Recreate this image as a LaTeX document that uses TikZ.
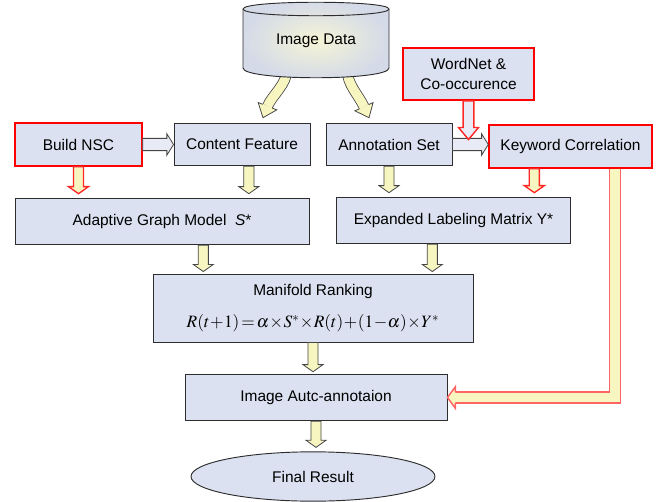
\documentclass[tikz,border=0pt]{standalone}
\usepackage{mathptmx}
\usepackage{fontspec}
\setmainfont{Liberation Sans}
\usetikzlibrary{shapes}
\usetikzlibrary{calc}
\usetikzlibrary{backgrounds}
\definecolor{boxfill}{RGB}{219,225,240}
\definecolor{boxline}{RGB}{45,45,45}
\definecolor{dbin}{RGB}{245,244,214}
\definecolor{dbout}{RGB}{212,218,232}
\definecolor{arrfill}{RGB}{247,245,192}
\definecolor{arrline}{RGB}{70,70,70}
\definecolor{redline}{RGB}{255,40,40}
\definecolor{pinkline}{RGB}{255,100,100}
\tikzset{
	box/.style = {rectangle, draw=boxline, line width=0.7pt, fill=boxfill,
		align=center, font=\fontsize{11.6}{15.5}\selectfont},
	box_r/.style = {box, draw=red, line width=1.3pt},% red framed box
	fat/.style = {draw=arrline, fill=arrfill, line width=0.6pt},% block arrow
	fat_r/.style = {fat, draw=redline, line width=1pt},
	fat_b/.style = {fat, fill=boxfill!65!white},
	fatline/.style = {draw=arrline, double=arrfill, double distance=7pt,
		line width=0.6pt},% shaft of a bent block arrow
	shaftw/.store in = \shaftw, headw/.store in = \headw,
	headl/.store in = \headl, tipgap/.store in = \tipgap,
	shaftw=3.8pt, headw=7.5pt, headl=5.3pt, tipgap=3pt
}
% straight block arrow from #2 to #3
\newcommand\fatarrow[3][]{%
	\path[#1] ($#3!\tipgap!#2$) coordinate (fa-t);
	\path[#1] ($(fa-t)!\headl!#2$) coordinate (fa-h);
	\draw[fat,#1] ($#2!\shaftw!90:(fa-t)$) -- ($(fa-h)!\shaftw!90:(fa-t)$)
		-- ($(fa-h)!\headw!90:(fa-t)$) -- (fa-t) -- ($(fa-h)!\headw!-90:(fa-t)$)
		-- ($(fa-h)!\shaftw!-90:(fa-t)$) -- ($#2!\shaftw!-90:(fa-t)$) -- cycle;}
% head only, base #2, tip #3
\newcommand\fathead[3][]{%
	\fill[fat,#1,draw=none] ($#2!\headw!90:#3$) -- #3 -- ($#2!\headw!-90:#3$) -- cycle;
	\draw[fat,#1,fill=none] ($#2!\shaftw!90:#3$) -- ($#2!\headw!90:#3$) -- #3
		-- ($#2!\headw!-90:#3$) -- ($#2!\shaftw!-90:#3$);}

\begin{document}
\begin{tikzpicture}[x=0.75pt,y=-0.75pt]
	\useasboundingbox (0,0) rectangle (663,502);
	\node[font=\fontsize{11.6}{15.5}\selectfont, minimum width=109.5pt,
		minimum height=57pt] (img) at (316,41) {Image Data};
	\node[box_r, minimum width=95pt, minimum height=32pt] (bnsc) at (78.5,144.5) {Build NSC};
	\node[box, minimum width=102pt, minimum height=32pt] (cf) at (242,144.5) {Content Feature};
	\node[box, minimum width=94.5pt, minimum height=32pt] (ann) at (389,144.5) {Annotation Set};
	\node[box_r, minimum width=98pt, minimum height=39pt] (wn) at (468.5,74) {WordNet \&\\Co-occurence};
	\node[box_r, minimum width=122pt, minimum height=32pt] (kw) at (570.5,146.5) {Keyword Correlation};
	\node[box, minimum width=220.5pt, minimum height=35pt] (agm) at (162,221.5) {Adaptive Graph Model~~\textit{S}*};
	\node[box, minimum width=176pt, minimum height=35pt] (elm) at (453.5,220.5) {Expanded Labeling Matrix Y*};
	\node[box, minimum width=240pt, minimum height=51pt] (mr) at (313,308)
		{Manifold Ranking\\[8.5pt] \fontsize{13}{15}\selectfont
		$R(t\mkern-2mu+\mkern-2mu1)\mkern-2mu=\mkern-2mu\alpha\mkern-2mu\times\mkern-2mu S^{*}\mkern-2mu\times\mkern-2mu R(t)\mkern-2mu+\mkern-2mu(1\mkern-2mu-\mkern-2mu\alpha)\mkern-2mu\times\mkern-2mu Y^{*}$};
	\node[box, minimum width=196.5pt, minimum height=35pt] (iaa) at (316,397.5) {Image Autc-annotaion};
	\node[ellipse, draw=boxline, line width=0.7pt, fill=boxfill, minimum width=183pt,
		minimum height=37pt, font=\fontsize{11.6}{15.5}\selectfont] (fr) at (313,476.5) {Final Result};

	\begin{pgfonlayer}{background}
		% curved arrows out of the data store
		\coordinate (l-tip) at ($(cf.north)+(21,-5)$);
		\coordinate (l-base) at ($(cf.north)+(25.5,-16.5)$);
		\draw[fatline] ($(img.south)+(-29,-10)$) .. controls +(0,15) and +(4.6,-11) .. (l-base);
		\fathead{(l-base)}{(l-tip)}
		\coordinate (r-tip) at ($(ann.north)+(-20,-5)$);
		\coordinate (r-base) at ($(ann.north)+(-25,-16)$);
		\draw[fatline] ($(img.south)+(31,-10)$) .. controls +(0,15) and +(-5,-11) .. (r-base);
		\fathead{(r-base)}{(r-tip)}
		% data store
		\shade[draw=boxline, line width=0.7pt, inner color=dbin, outer color=dbout]
			(243,9) .. controls (243,0) and (389,0) .. (389,9) -- (389,68)
			.. controls (389,81) and (243,81) .. (243,68) -- cycle;
		\draw[boxline, line width=0.7pt] (243,9) .. controls (243,18) and (389,18) .. (389,9);
	\end{pgfonlayer}

	% side arrows
	\fatarrow[fat_b, shaftw=4.6pt, headw=8pt, headl=5pt, tipgap=0pt]{(bnsc.east)}{(cf.west)}
	\fatarrow[fat_b, shaftw=4.6pt, headw=8pt, headl=5pt, tipgap=0pt]{(ann.east)}{(ann.east -| kw.west)}
	\coordinate (wn-tip) at ($(wn.south |- ann.east)+(0,-5)$);
	\fatarrow[fat_b, draw=redline, line width=1.1pt, shaftw=4.1pt, headw=7.5pt, headl=9pt, tipgap=0pt]{(wn.south)}{(wn-tip)}

	% down arrows
	\fatarrow[fat_r]{(bnsc.south)}{(bnsc.south |- agm.north)}
	\coordinate (cf-out) at ($(cf.south west)!0.55!(cf.south east)$);
	\fatarrow{(cf-out)}{(cf-out |- agm.north)}
	\fatarrow{(ann.south)}{(ann.south |- elm.north)}
	\coordinate (kw-mid) at ($(kw.south west)!0.28!(kw.south east)$);
	\fatarrow[fat_r]{(kw-mid)}{(kw-mid |- elm.north)}
	\coordinate (agm-out) at ($(agm.south west)!0.64!(agm.south east)$);
	\fatarrow[tipgap=1.5pt]{(agm-out)}{(agm-out |- mr.north)}
	\coordinate (elm-out) at ($(elm.south west)!0.41!(elm.south east)$);
	\fatarrow[tipgap=1.5pt]{(elm-out)}{(elm-out |- mr.north)}
	\fatarrow[tipgap=1.5pt]{(mr.south)}{(mr.south |- iaa.north)}
	\fatarrow{(iaa.south)}{(iaa.south |- fr.north)}

	% keyword correlation back into annotation
	\coordinate (kw-out) at ($(kw.south west)!0.77!(kw.south east)$);
	\coordinate (iaa-in) at ($(iaa.east)+(8,0)$);
	\draw[fatline, draw=pinkline, line width=1.1pt, double distance=7.1pt] (kw-out) |- (iaa-in);
	\fathead[fat, draw=pinkline, line width=1.1pt, shaftw=4.1pt, headw=8.2pt]{(iaa-in)}{(iaa.east)}
\end{tikzpicture}
\end{document}
